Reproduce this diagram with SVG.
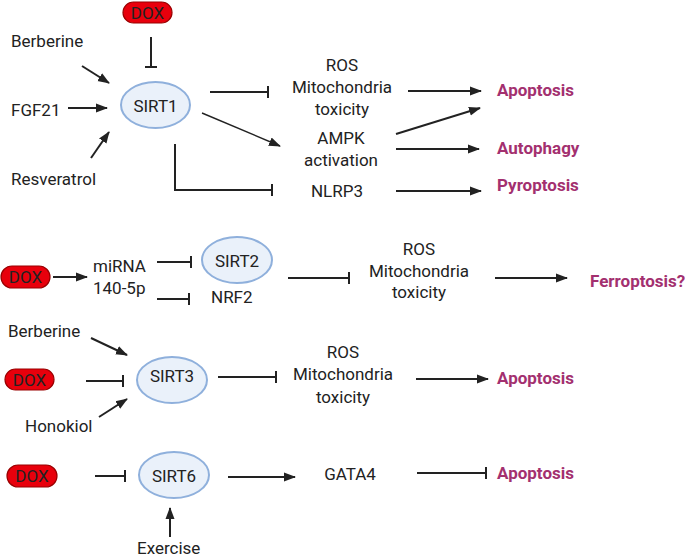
<svg xmlns="http://www.w3.org/2000/svg" width="685" height="557" viewBox="0 0 685 557">
<style>
text{font-family:Roboto,"Liberation Sans",sans-serif;font-size:17px;fill:#222}
.c{text-anchor:middle}
.out{font-weight:bold;fill:#a3306f}
.sirt{fill:#eaf1fa;stroke:#8fb0dc;stroke-width:2}
.dox{fill:#e8000c;stroke:#9a0000;stroke-width:1.2}
.ln{stroke:#222;stroke-width:2;fill:none}
.thin{stroke:#222;stroke-width:1.4;fill:none}
.ar{marker-end:url(#arrow)}
.tb{marker-end:url(#tbar)}
</style>
<defs>
<marker id="arrow" markerUnits="userSpaceOnUse" markerWidth="12" markerHeight="10" viewBox="0 0 12 10" refX="11" refY="5" orient="auto"><path d="M0,0.5 L12,5 L0,9.5 z" fill="#222"/></marker>
<marker id="tbar" markerUnits="userSpaceOnUse" markerWidth="4" markerHeight="12" viewBox="0 0 4 12" refX="2" refY="6" orient="auto"><path d="M2,0 L2,12" stroke="#222" stroke-width="2"/></marker>
</defs>

<g id="connectors">
<line class="ln tb" x1="151" y1="37" x2="151" y2="67"/>
<line class="ln ar" x1="82" y1="66" x2="109" y2="83"/>
<line class="ln ar" x1="68" y1="108" x2="107" y2="108"/>
<line class="ln ar" x1="91" y1="158" x2="109" y2="132"/>
<line class="ln tb" x1="210" y1="92" x2="268" y2="92"/>
<line class="thin ar" x1="202" y1="113" x2="280" y2="146"/>
<path class="ln tb" d="M175,144 L175,190 L272,190"/>
<line class="ln ar" x1="408" y1="91" x2="481" y2="91"/>
<line class="ln ar" x1="396" y1="134" x2="480" y2="108"/>
<line class="ln ar" x1="396" y1="149" x2="479" y2="149"/>
<line class="ln ar" x1="396" y1="191" x2="481" y2="191"/>
<line class="ln ar" x1="53" y1="277" x2="87" y2="277"/>
<line class="ln tb" x1="157" y1="262" x2="191" y2="262"/>
<line class="ln tb" x1="157" y1="299" x2="189" y2="299"/>
<line class="ln tb" x1="288" y1="278" x2="349" y2="278"/>
<line class="ln ar" x1="495" y1="278" x2="567" y2="278"/>
<line class="ln ar" x1="91" y1="338" x2="127" y2="355"/>
<line class="ln tb" x1="86" y1="381" x2="123" y2="381"/>
<line class="ln ar" x1="99" y1="417" x2="127" y2="399"/>
<line class="ln tb" x1="218" y1="377" x2="276" y2="377"/>
<line class="ln ar" x1="416" y1="379" x2="488" y2="379"/>
<line class="ln tb" x1="95" y1="476" x2="125" y2="476"/>
<line class="ln ar" x1="170" y1="537" x2="170" y2="508"/>
<line class="ln ar" x1="228" y1="477" x2="295" y2="477"/>
<line class="ln tb" x1="417" y1="473" x2="486" y2="473"/>
</g>

<g id="sirt1"><ellipse class="sirt" cx="155.5" cy="105" rx="34.5" ry="23"/><text class="c" x="155.5" y="112">SIRT1</text></g>
<g id="sirt2"><ellipse class="sirt" cx="237" cy="260" rx="35" ry="23"/><text class="c" x="237" y="267">SIRT2</text></g>
<g id="sirt3"><ellipse class="sirt" cx="172" cy="380" rx="35" ry="23"/><text class="c" x="172" y="382">SIRT3</text></g>
<g id="sirt6"><ellipse class="sirt" cx="174" cy="475" rx="35" ry="23"/><text class="c" x="174" y="482">SIRT6</text></g>

<g id="dox1"><rect class="dox" x="123" y="2" width="49" height="21" rx="10.5"/><text class="c" x="147.5" y="18.5">DOX</text></g>
<g id="dox2"><rect class="dox" x="1" y="266" width="49" height="22" rx="11"/><text class="c" x="25.5" y="283">DOX</text></g>
<g id="dox3"><rect class="dox" x="5" y="369" width="49" height="21" rx="10.5"/><text class="c" x="29.5" y="385.5">DOX</text></g>
<g id="dox4"><rect class="dox" x="7" y="465" width="50" height="22" rx="11"/><text class="c" x="32" y="482">DOX</text></g>

<g id="berberine1"><text x="11" y="47">Berberine</text></g>
<g id="fgf21"><text x="11" y="116">FGF21</text></g>
<g id="resveratrol"><text x="11" y="185">Resveratrol</text></g>
<g id="ros1"><text class="c" x="342" y="71">ROS</text><text class="c" x="342" y="93">Mitochondria</text><text class="c" x="342" y="115">toxicity</text></g>
<g id="ampk"><text class="c" x="341" y="144">AMPK</text><text class="c" x="341" y="166">activation</text></g>
<g id="nlrp3"><text class="c" x="337" y="197">NLRP3</text></g>
<g id="apoptosis1"><text class="out" x="497" y="96">Apoptosis</text></g>
<g id="autophagy"><text class="out" x="497" y="154">Autophagy</text></g>
<g id="pyroptosis"><text class="out" x="497" y="191">Pyroptosis</text></g>

<g id="mirna"><text x="93" y="272">miRNA</text><text x="93" y="294">140-5p</text></g>
<g id="nrf2"><text x="211" y="303">NRF2</text></g>
<g id="ros2"><text class="c" x="419" y="255">ROS</text><text class="c" x="419" y="277">Mitochondria</text><text class="c" x="419" y="298">toxicity</text></g>
<g id="ferroptosis"><text class="out" x="590" y="287">Ferroptosis?</text></g>

<g id="berberine2"><text x="8" y="337">Berberine</text></g>
<g id="honokiol"><text x="25" y="432">Honokiol</text></g>
<g id="ros3"><text class="c" x="343" y="358">ROS</text><text class="c" x="343" y="380">Mitochondria</text><text class="c" x="343" y="403">toxicity</text></g>
<g id="apoptosis2"><text class="out" x="497" y="384">Apoptosis</text></g>

<g id="gata4"><text class="c" x="350" y="480">GATA4</text></g>
<g id="apoptosis3"><text class="out" x="497" y="479">Apoptosis</text></g>
<g id="exercise"><text x="137" y="554">Exercise</text></g>
</svg>
